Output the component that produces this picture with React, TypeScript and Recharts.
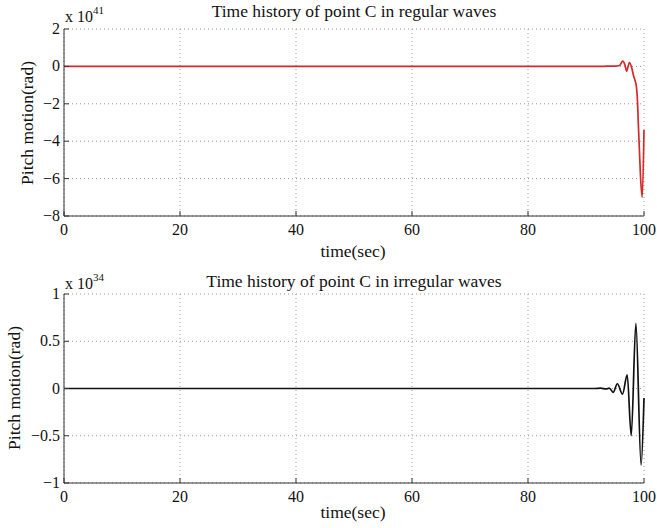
import React from 'react';
import { LineChart, Line, XAxis, YAxis, CartesianGrid } from 'recharts';

document.body.style.margin = '0';

// time axis (sec) and pitch motion (in units of 1e41 rad) for regular waves
const timeRegular = [0, 90, 93, 94, 95, 95.8, 96.3, 96.7, 97.0, 97.3, 97.5, 97.9, 98.2, 98.5, 98.7, 98.9, 99.0, 99.2, 99.4, 99.7, 100];
const pitchRegular = [0, 0, 0.005, 0.02, 0.01, 0.05, 0.28, 0.1, -0.25, 0.05, 0.2, -0.1, -0.5, -0.8, -1.1, -2.0, -2.9, -4.4, -5.9, -7.0, -3.4];

// pitch motion (in units of 1e34 rad) for irregular waves
const timeIrregular = [0, 91.5, 92.5, 93.5, 94, 94.7, 95.4, 96.3, 97.1, 97.8, 98.6, 99.5, 100];
const pitchIrregular = [0, 0, 0.003, -0.005, 0.005, -0.04, 0.05, -0.06, 0.145, -0.5, 0.69, -0.81, -0.1];

const timeTicks = [0, 20, 40, 60, 80, 100];
const regularTicks = [-8, -6, -4, -2, 0, 2];
const irregularTicks = [-1, -0.5, 0, 0.5, 1];

const FONT = '"Liberation Serif", "Times New Roman", serif';
const AXIS = '#333';

const fmt = (v: number) => (v < 0 ? '\u2212' + Math.abs(v) : String(v));

const LeftTick = (props: any) => {
  const { x, y, payload } = props;
  return (
    <g>
      <line x1={x} x2={x + 5} y1={y} y2={y} stroke={AXIS} />
      <text x={x - 4} y={y} dy={5} textAnchor="end" fontFamily={FONT} fontSize={16} fill="#111">
        {fmt(payload.value)}
      </text>
    </g>
  );
};

const BottomTick = (props: any) => {
  const { x, y, payload } = props;
  return (
    <g>
      <line x1={x} x2={x} y1={y} y2={y - 5} stroke={AXIS} />
      <text x={x} y={y + 19} textAnchor="middle" fontFamily={FONT} fontSize={16} fill="#111">
        {fmt(payload.value)}
      </text>
    </g>
  );
};

const RightTick = (props: any) => (
  <line x1={props.x} x2={props.x - 5} y1={props.y} y2={props.y} stroke={AXIS} />
);

const TopTick = (props: any) => (
  <line x1={props.x} x2={props.x} y1={props.y} y2={props.y + 5} stroke={AXIS} />
);

interface PanelProps {
  times: number[];
  values: number[];
  yTicks: number[];
  color: string;
  marginTop: number;
  marginBottom: number;
}

const Panel = ({ times, values, yTicks, color, marginTop, marginBottom }: PanelProps) => {
  const data = times.map((t, i) => ({ t, p: values[i] }));
  const yDomain = [yTicks[0], yTicks[yTicks.length - 1]];
  return (
    <LineChart
      width={657}
      height={264}
      data={data}
      margin={{ top: marginTop, right: 13, bottom: marginBottom, left: 8 }}
    >
      <CartesianGrid stroke="#999" strokeDasharray="1 3" />
      <XAxis
        dataKey="t"
        type="number"
        domain={[0, 100]}
        ticks={timeTicks}
        height={30}
        tickSize={0}
        tickMargin={0}
        tickLine={false}
        axisLine={{ stroke: AXIS }}
        tick={BottomTick}
      />
      <XAxis
        xAxisId="top"
        dataKey="t"
        type="number"
        orientation="top"
        domain={[0, 100]}
        ticks={timeTicks}
        height={0}
        tickSize={0}
        tickMargin={0}
        tickLine={false}
        axisLine={{ stroke: AXIS }}
        tick={TopTick}
      />
      <YAxis
        type="number"
        domain={yDomain}
        ticks={yTicks}
        width={56}
        tickSize={0}
        tickMargin={0}
        tickLine={false}
        axisLine={{ stroke: AXIS }}
        tick={LeftTick}
        allowDataOverflow
      />
      <YAxis
        yAxisId="right"
        type="number"
        orientation="right"
        domain={yDomain}
        ticks={yTicks}
        width={0}
        tickSize={0}
        tickMargin={0}
        tickLine={false}
        axisLine={{ stroke: AXIS }}
        tick={RightTick}
        allowDataOverflow
      />
      <Line
        type="monotone"
        dataKey="p"
        stroke={color}
        strokeWidth={1.7}
        dot={false}
        isAnimationActive={false}
      />
    </LineChart>
  );
};

const textStyle = { fontFamily: FONT, fill: '#111' };

const App = () => {
  return (
    <div style={{ position: 'relative', width: 657, height: 528, background: '#fff' }}>
      <Panel
        times={timeRegular}
        values={pitchRegular}
        yTicks={regularTicks}
        color="#d42a2a"
        marginTop={29}
        marginBottom={18}
      />
      <Panel
        times={timeIrregular}
        values={pitchIrregular}
        yTicks={irregularTicks}
        color="#111"
        marginTop={30}
        marginBottom={15}
      />
      <svg
        width={657}
        height={528}
        style={{ position: 'absolute', left: 0, top: 0, pointerEvents: 'none' }}
      >
        <text x={354} y={17} textAnchor="middle" fontSize={17.5} style={textStyle}>
          Time history of point C in regular waves
        </text>
        <text x={65} y={22} fontSize={16} style={textStyle}>
          x 10<tspan dy={-8} fontSize={11}>41</tspan>
        </text>
        <text
          x={27}
          y={123}
          textAnchor="middle"
          dominantBaseline="central"
          fontSize={17.5}
          transform="rotate(-90, 27, 123)"
          style={textStyle}
        >
          Pitch motion(rad)
        </text>
        <text x={353} y={257} textAnchor="middle" fontSize={17.5} style={textStyle}>
          time(sec)
        </text>

        <text x={354} y={287} textAnchor="middle" fontSize={17.5} style={textStyle}>
          Time history of point C in irregular waves
        </text>
        <text x={65} y={289} fontSize={16} style={textStyle}>
          x 10<tspan dy={-8} fontSize={11}>34</tspan>
        </text>
        <text
          x={14}
          y={388}
          textAnchor="middle"
          dominantBaseline="central"
          fontSize={17.5}
          transform="rotate(-90, 14, 388)"
          style={textStyle}
        >
          Pitch motion(rad)
        </text>
        <text x={353} y={518} textAnchor="middle" fontSize={17.5} style={textStyle}>
          time(sec)
        </text>
      </svg>
    </div>
  );
};

export default App;
